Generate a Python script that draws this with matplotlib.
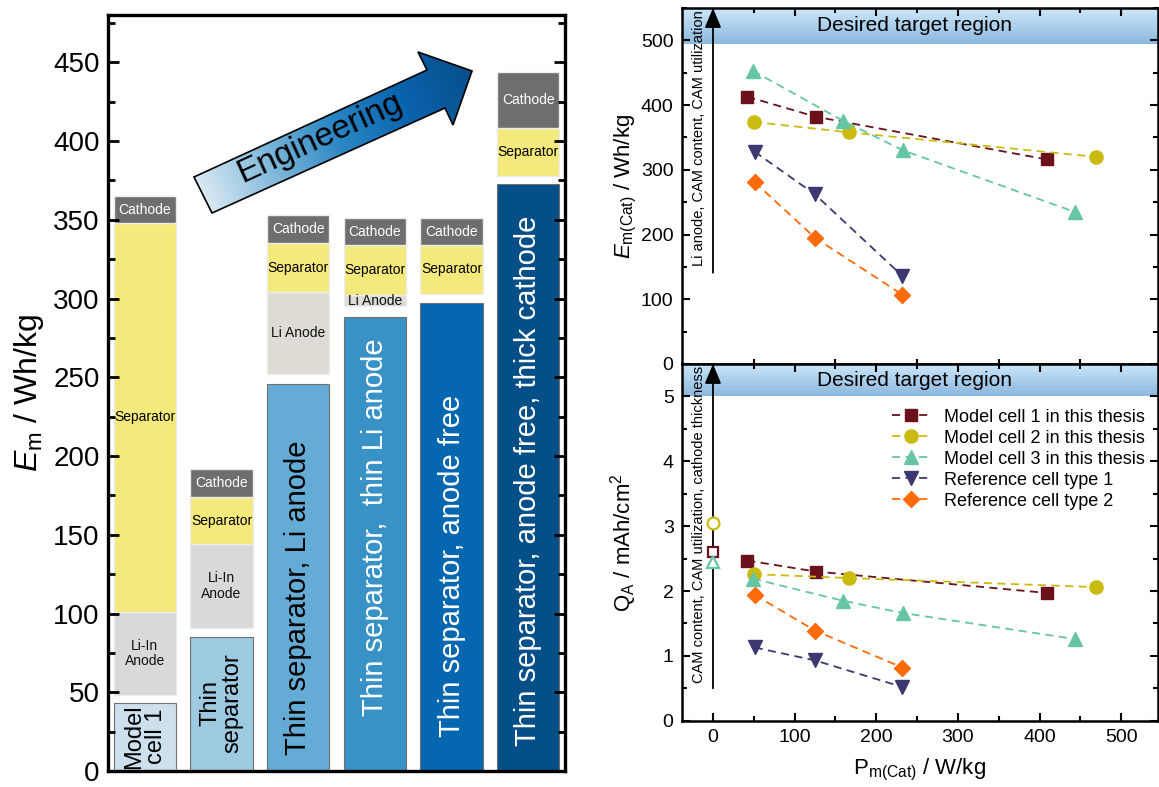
import numpy as np
import matplotlib
matplotlib.use('Agg')
import matplotlib.pyplot as plt
from matplotlib.colors import LinearSegmentedColormap
from matplotlib.patches import Polygon
from matplotlib.ticker import MultipleLocator

plt.rcParams['font.family'] = ['Liberation Sans', 'DejaVu Sans']
plt.rcParams['mathtext.fontset'] = 'custom'
plt.rcParams['mathtext.rm'] = 'Liberation Sans'
plt.rcParams['mathtext.it'] = 'Liberation Sans:italic'

# ---- left panel: energy density per engineering step ----
cell_labels = ['Model\ncell 1', 'Thin\nseparator', 'Thin separator, Li anode',
               'Thin separator,  thin Li anode', 'Thin separator, anode free',
               'Thin separator, anode free, thick cathode']
base_em = [43, 85, 246, 288, 297, 373]
anode_lo = [48, 91, 252, 295, np.nan, np.nan]
anode_hi = [101, 144, 304, 302, np.nan, np.nan]
anode_names = ['Li-In\nAnode', 'Li-In\nAnode', 'Li Anode', 'Li Anode', '', '']
sep_lo = [101, 144, 304, 302, 303, 378]
sep_hi = [348, 174, 335, 334, 334, 408]
cat_hi = [365, 192, 353, 351, 351, 444]

# ---- right panels ----
series_names = ['Model cell 1 in this thesis', 'Model cell 2 in this thesis',
                'Model cell 3 in this thesis', 'Reference cell type 1',
                'Reference cell type 2']
p_cat = [[42, 126, 409], [50, 166, 469], [49, 159, 233, 443],
         [51, 125, 232], [51, 125, 232]]
e_cat = [[413, 382, 316], [374, 358, 320], [453, 376, 330, 235],
         [328, 262, 136], [281, 195, 107]]
q_a = [[2.47, 2.30, 1.97], [2.26, 2.20, 2.06], [2.19, 1.85, 1.66, 1.26],
       [1.13, 0.93, 0.52], [1.94, 1.39, 0.82]]
q_zero = [2.60, 3.05, 2.45]   # open symbols at P = 0

# styles
base_colors = ['#cde0ee', '#9dc9e1', '#64acd5', '#3992c6', '#0667b1', '#044f88']
base_text_colors = ['black', 'black', 'black', 'white', 'white', 'white']
base_text_sizes = [17, 17, 21, 21, 21, 21]
base_text_y = [22, 43, 110, 155, 130, 184]
anode_colors = ['#d9d9d9', '#d9d9d9', '#dddbd3', '#dddbd3', 'none', 'none']
sep_color = '#f4ea7c'
cat_color = '#6e6e6e'
s_colors = ['#6b111b', '#c9bb12', '#66c5a5', '#3b3970', '#ff6a0a']
s_markers = ['s', 'o', '^', 'v', 'D']
s_sizes = [8, 9.5, 10, 10, 8]

fig = plt.figure(figsize=(11.59, 7.87), dpi=100)

ax = fig.add_axes([0.0932, 0.0203, 0.3943, 0.9606])
x = np.arange(len(cell_labels))
w = 0.81
ax.bar(x, base_em, width=w, color=base_colors, edgecolor='#707070', linewidth=0.8)
for i in x:
    ax.text(i, base_text_y[i], cell_labels[i], rotation=90, ha='center', va='center',
            multialignment='center', fontsize=base_text_sizes[i],
            color=base_text_colors[i], linespacing=1.0)
    if not np.isnan(anode_lo[i]):
        ax.bar(i, anode_hi[i] - anode_lo[i], bottom=anode_lo[i], width=w,
               color=anode_colors[i], edgecolor='#ececec', linewidth=1)
        ax.text(i, (anode_lo[i] + anode_hi[i]) / 2, anode_names[i], ha='center',
                va='center', fontsize=10, color='#111111', linespacing=1.1)
    ax.bar(i, sep_hi[i] - sep_lo[i], bottom=sep_lo[i], width=w, color=sep_color,
           edgecolor='#ececec', linewidth=1)
    ax.text(i, (sep_lo[i] + sep_hi[i]) / 2, 'Separator', ha='center', va='center',
            fontsize=10, color='black')
    ax.bar(i, cat_hi[i] - sep_hi[i], bottom=sep_hi[i], width=w, color=cat_color,
           edgecolor='#ececec', linewidth=1)
    ax.text(i, (sep_hi[i] + cat_hi[i]) / 2, 'Cathode', ha='center', va='center',
            fontsize=10, color='white')

ax.set_xlim(-0.48, 5.48)
ax.set_ylim(0, 480)
ax.set_xticks([])
ax.yaxis.set_major_locator(MultipleLocator(50))
ax.yaxis.set_minor_locator(MultipleLocator(25))
ax.tick_params(axis='y', which='both', direction='in', left=True, right=True,
               width=2, labelsize=20, pad=6)
ax.tick_params(axis='y', which='major', length=8)
ax.tick_params(axis='y', which='minor', length=5)
for s in ax.spines.values():
    s.set_linewidth(2.4)
ax.set_ylabel(r'$E_\mathrm{m}$ / Wh/kg', fontsize=23)
ax.yaxis.set_label_coords(-0.135, 0.5)

# ---- right panels ----
axt = fig.add_axes([0.5884, 0.5375, 0.4107, 0.4523])
axb = fig.add_axes([0.5884, 0.0842, 0.4107, 0.4533])
xlim = (-38, 545)
band_cmap = LinearSegmentedColormap.from_list('band', ['#8cb8de', '#cde7fa'])
dash = (0, (4.5, 3))

for a, ydata, ylim, band_lo, arrow_lo, side_text in [
        (axt, e_cat, (0, 550), 495, 141, 'Li anode, CAM content, CAM utilization'),
        (axb, q_a, (0, 5.5), 5.0, 0.5, 'CAM content, CAM utilization, cathode thickness')]:
    a.imshow(np.linspace(0, 1, 64).reshape(-1, 1), cmap=band_cmap, origin='lower',
             extent=(xlim[0], xlim[1], band_lo, ylim[1]), aspect='auto', zorder=0.5)
    a.text(247, (band_lo + ylim[1]) / 2, 'Desired target region', ha='center',
           va='center', fontsize=15, zorder=3)
    for k in range(len(series_names)):
        a.plot(p_cat[k], ydata[k], linestyle=dash, lw=1.3, color=s_colors[k],
               marker=s_markers[k], ms=s_sizes[k], mec=s_colors[k], mfc=s_colors[k],
               label=series_names[k], zorder=4)
    a.annotate('', xy=(0, ylim[1]), xytext=(0, arrow_lo), annotation_clip=False,
               arrowprops=dict(arrowstyle='-|>,head_length=1.2,head_width=0.5',
                               color='black', lw=1.3, shrinkA=0, shrinkB=0),
               zorder=5)
    a.text(-9, ylim[1] * 0.995, side_text, rotation=90, ha='right', va='top',
           fontsize=10.5)
    a.set_xlim(*xlim)
    a.set_ylim(*ylim)
    a.xaxis.set_major_locator(MultipleLocator(100))
    a.xaxis.set_minor_locator(MultipleLocator(50))
    a.tick_params(which='both', direction='in', left=True, right=True, top=True,
                  width=1.5, labelsize=14, pad=6)
    a.tick_params(which='major', length=6)
    a.tick_params(which='minor', length=3.5)
    for s in a.spines.values():
        s.set_linewidth(1.8)

axt.yaxis.set_major_locator(MultipleLocator(100))
axt.yaxis.set_minor_locator(MultipleLocator(50))
axt.tick_params(axis='x', bottom=False, labelbottom=False)
axb.yaxis.set_major_locator(MultipleLocator(1))
axb.yaxis.set_minor_locator(MultipleLocator(0.5))

for k in range(len(q_zero)):
    axb.plot([0], [q_zero[k]], linestyle='none', marker=s_markers[k],
             ms=s_sizes[k] - 1, mec=s_colors[k], mfc='white', mew=1.6, zorder=6)

axt.set_ylabel(r'$E_\mathrm{m(Cat)}$ / Wh/kg', fontsize=16)
axb.set_ylabel(r'Q$_\mathrm{A}$ / mAh/cm$^2$', fontsize=16)
axt.yaxis.set_label_coords(-0.09, 0.5)
axb.yaxis.set_label_coords(-0.09, 0.5)
axb.set_xlabel(r'P$_\mathrm{m(Cat)}$ / W/kg', fontsize=16)
axb.xaxis.set_label_coords(0.5, -0.1)

axb.legend(loc='upper right', bbox_to_anchor=(1.0, 0.91), frameon=False,
           fontsize=13, handlelength=2.1, handletextpad=0.8, labelspacing=0.22,
           borderaxespad=0.3)

# ---- "Engineering" arrow drawn in figure pixels ----
ov = fig.add_axes([0, 0, 1, 1], zorder=5)
ov.set_axis_off()
arrow_pts = np.array([(194, 177), (427, 70), (418, 52), (472, 71),
                      (453, 125), (445, 108), (212, 213)])
poly = Polygon(arrow_pts, closed=True, facecolor='none', edgecolor='black', lw=1.2,
               zorder=3)
ov.add_patch(poly)
x0, x1 = arrow_pts[:, 0].min(), arrow_pts[:, 0].max()
y0, y1 = arrow_pts[:, 1].min(), arrow_pts[:, 1].max()
gx, gy = np.meshgrid(np.linspace(x0, x1, 200), np.linspace(y0, y1, 120))
start = np.array([203, 195])
end = np.array([472, 71])
u = (end - start) / np.linalg.norm(end - start)
t = ((gx - start[0]) * u[0] + (gy - start[1]) * u[1]) / np.linalg.norm(end - start)
arrow_cmap = LinearSegmentedColormap.from_list(
    'arr', ['#d9e8f3', '#7fb8da', '#2a86c4', '#0a63ad', '#074f8b'])
im = ov.imshow(np.clip(t, 0, 1), cmap=arrow_cmap, extent=(x0, x1, y1, y0),
               origin='upper', aspect='auto', zorder=2)
im.set_clip_path(poly)
ov.text(320, 138, 'Engineering', rotation=24.5, ha='center', va='center',
        rotation_mode='anchor', fontsize=24, zorder=4)
ov.set_xlim(0, 1159)
ov.set_ylim(787, 0)

fig.savefig('out.png', dpi=100)
